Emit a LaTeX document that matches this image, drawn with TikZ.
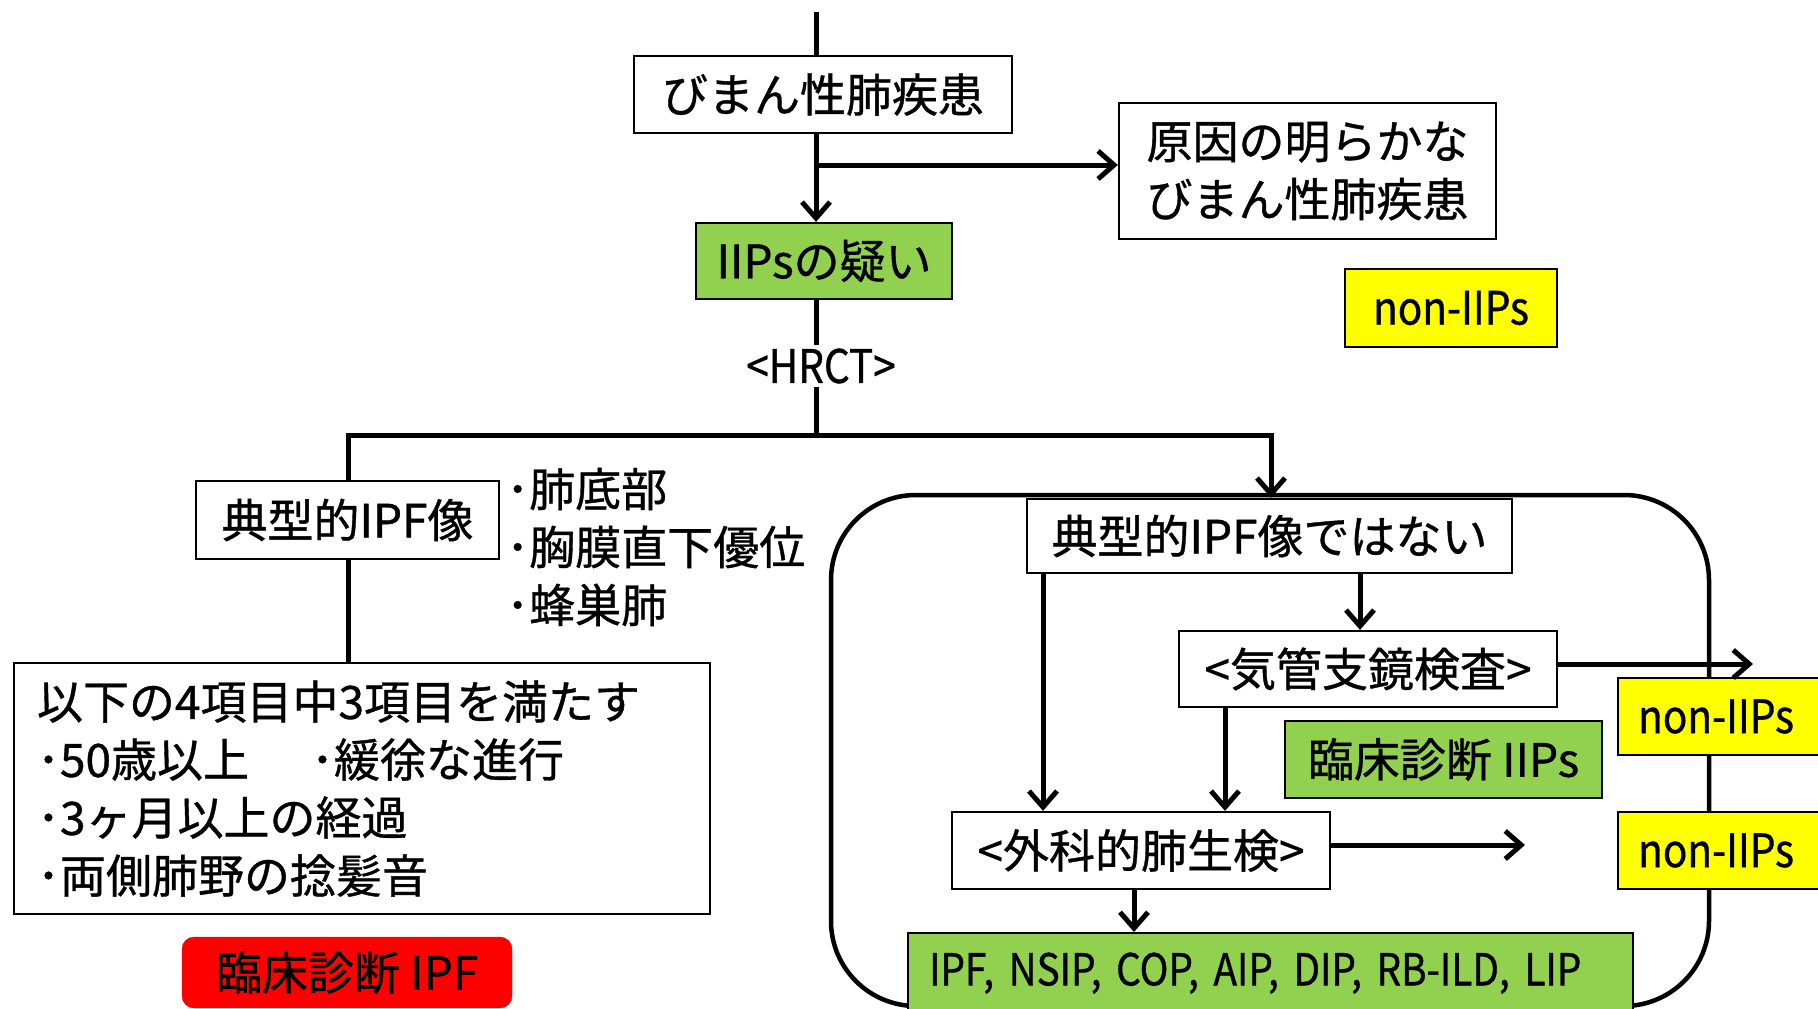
\documentclass[tikz,border=0pt]{standalone}
\usepackage{fontspec}
\setmainfont[FakeBold=0.8]{Noto Sans CJK JP}
\newfontfamily\narrowlat[FakeStretch=0.88,FakeBold=0.8]{Noto Sans CJK JP}
\usetikzlibrary{arrows.meta}
\definecolor{boxgreen}{HTML}{92D050}
\definecolor{boxyellow}{HTML}{FFFF00}
\definecolor{boxred}{HTML}{FF0000}
\begin{document}
\begin{tikzpicture}[x=1pt,y=-1pt,
  jp/.style={font=\fontsize{46}{58}\selectfont},
  lat/.style={font=\narrowlat\fontsize{46}{56}\selectfont},
  latsmall/.style={font=\narrowlat\fontsize{44}{56}\selectfont},
  box/.style={draw=black, line width=2.3pt, inner sep=0pt},
  conn/.style={line width=5pt},
  arr/.style={line width=5pt, -{Straight Barb[length=16pt,width=28pt]}}]
\useasboundingbox (0,0) rectangle (1818,1009);
\fill[white] (0,0) rectangle (1818,1009);

% group frame
\draw[line width=4.5pt, rounded corners=85pt] (831,495) rectangle (1709,1006);

% top part
\node[box, jp, minimum width=378pt, minimum height=77pt] (diff) at (823,94.5) {びまん性肺疾患};
\node[box, jp, minimum width=377pt, minimum height=136pt, align=left] (cause) at (1307.5,171) {原因の明らかな\\びまん性肺疾患};
\node[box, jp, fill=boxgreen, minimum width=256pt, minimum height=76pt] (iips) at (824,261) {IIPsの疑い};
\node[box, lat, fill=boxyellow, minimum width=212pt, minimum height=78pt] (non1) at (1451,308) {non-IIPs};
\node[lat, inner sep=3pt] (hrct) at (821,366) {<HRCT>};

\coordinate (top) at (816,12);
\coordinate (br) at (816,165);
\coordinate (j1) at (348,435);
\coordinate (j0) at (816,435);
\coordinate (j2) at (1271,435);

\draw[conn] (top) -- (top |- diff.north);
\draw[arr] (top |- diff.south) -- (top |- iips.north);
\draw[arr] (br) -- (br -| cause.west);
\draw[conn] (top |- iips.south) -- (top |- hrct.north);
\draw[conn] (top |- hrct.south) -- (j0);
\draw[conn, line cap=rect] (j1) -- (j2);

% left branch
\node[box, jp, minimum width=303pt, minimum height=78pt] (typ) at (347.5,520) {典型的IPF像};
\node[jp, anchor=west, align=left, inner sep=0pt] (feat) at (506,547) {･肺底部\\･胸膜直下優位\\･蜂巣肺};
\node[box, jp, minimum width=696pt, minimum height=251pt, text width=650pt, align=left] (crit) at (362,788.5)
  {以下の4項目中3項目を満たす\\･50歳以上\hspace{62pt}･緩徐な進行\\･3ヶ月以上の経過\\･両側肺野の捻髪音};
\node[draw=boxred, fill=boxred, rounded corners=12pt, jp, minimum width=330pt, minimum height=71pt, inner sep=0pt] (cipf) at (347,972.5) {臨床診断 IPF};

\draw[conn] (j1) -- (j1 |- typ.north);
\draw[conn] (j1 |- typ.south) -- (j1 |- crit.north);

% right branch
\node[box, jp, fill=white, minimum width=485pt, minimum height=74pt] (notipf) at (1269.5,536) {典型的IPF像ではない};
\node[box, jp, fill=white, minimum width=378pt, minimum height=76pt] (bronch) at (1368,669) {<気管支鏡検査>};
\node[box, jp, fill=boxgreen, minimum width=317pt, minimum height=77pt] (ciips) at (1443.5,759.5) {臨床診断 IIPs};
\node[box, jp, fill=white, minimum width=378pt, minimum height=77pt] (surg) at (1141,850.5) {<外科的肺生検>};
\node[box, latsmall, fill=boxgreen, anchor=north west, minimum height=80pt, text width=683pt, inner xsep=21pt, align=left] (dx) at (907,932) {\mbox{IPF, NSIP, COP, AIP, DIP, RB-ILD, LIP}};
\node[box, lat, fill=boxyellow, anchor=west, minimum height=77pt, text width=190pt, inner xsep=20pt, align=left] (non2) at (1617,716.5) {non-IIPs};
\node[box, lat, fill=boxyellow, anchor=west, minimum height=77pt, text width=190pt, inner xsep=20pt, align=left] (non3) at (1617,850.5) {non-IIPs};

\coordinate (b1end) at (1753,664);
\coordinate (s1end) at (1525,845);
\coordinate (va) at (1043,0);
\coordinate (vb) at (1225,0);
\coordinate (vc) at (1360,0);
\coordinate (vd) at (1134,0);

\draw[arr] (j2) -- (j2 |- notipf.north);
\draw[arr] (vc |- notipf.south) -- (vc |- bronch.north);
\draw[arr] (b1end -| bronch.east) -- (b1end);
\draw[arr] (va |- notipf.south) -- (va |- surg.north);
\draw[arr] (vb |- bronch.south) -- (vb |- surg.north);
\draw[arr] (s1end -| surg.east) -- (s1end);
\draw[arr] (vd |- surg.south) -- (vd |- dx.north);
\end{tikzpicture}
\end{document}
